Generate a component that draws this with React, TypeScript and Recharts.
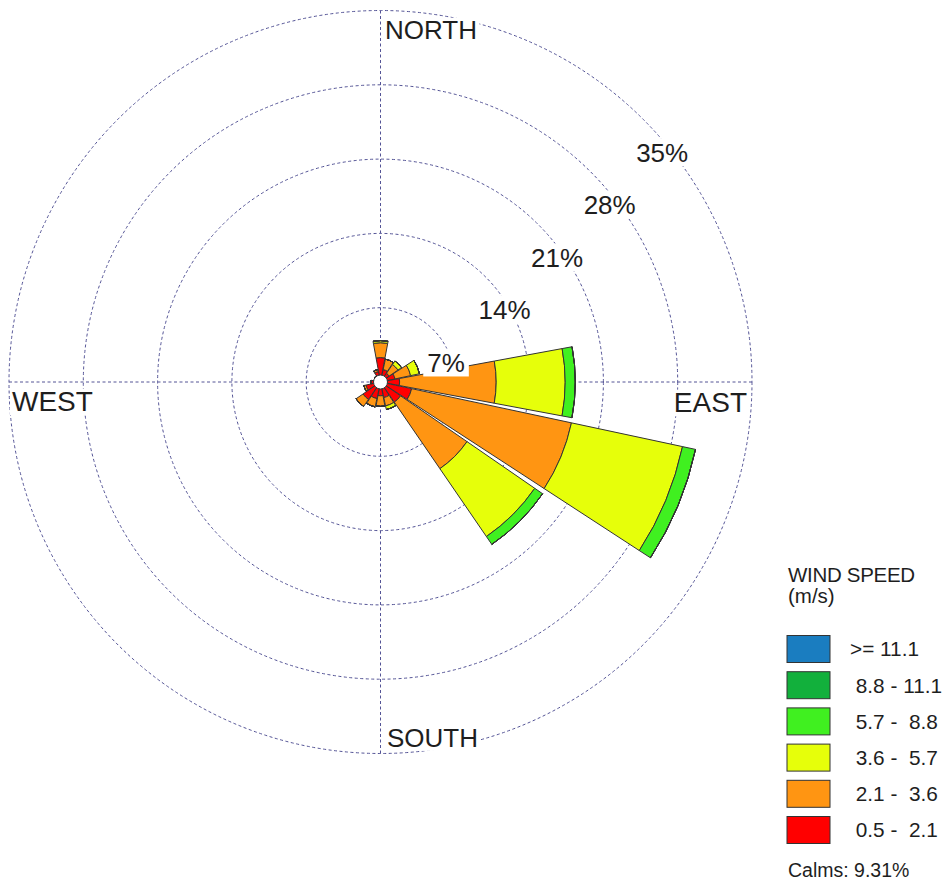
import React from "react";
import {
  RadialBarChart,
  RadialBar,
  PolarGrid,
  PolarAngleAxis,
  PolarRadiusAxis,
} from "recharts";

// 16 compass sectors, clockwise from north
const directions = [
  "N", "NNE", "NE", "ENE", "E", "ESE", "SE", "SSE",
  "S", "SSW", "SW", "WSW", "W", "WNW", "NW", "NNW",
];

// frequency (%) per direction for each wind speed class (m/s)
const speed05to21 = [2.3, 1.2, 1.0, 1.4, 1.8, 3.0, 2.3, 1.5, 1.3, 1.6, 2.0, 1.4, 0.9, 0.6, 0.7, 1.0];
const speed21to36 = [1.4, 1.0, 1.0, 1.5, 9.1, 15.4, 7.6, 0.8, 1.0, 0.8, 0.8, 0.2, 0, 0, 0, 0.2];
const speed36to57 = [0.2, 0, 0.4, 0.85, 6.5, 10.7, 7.75, 0.35, 0, 0, 0, 0, 0, 0, 0, 0];
const speed57to88 = [0, 0, 0, 0, 0.95, 1.25, 0.9, 0, 0, 0, 0, 0, 0, 0, 0, 0];
const speed88to111 = [0, 0, 0, 0, 0, 0, 0, 0, 0, 0, 0, 0, 0, 0, 0, 0];
const speed111up = [0, 0, 0, 0, 0, 0, 0, 0, 0, 0, 0, 0, 0, 0, 0, 0];

const ringTicks = [0, 7, 14, 21, 28, 35];
const calmsPct = 9.31;

// legend, top to bottom
const legendLabels = [">= 11.1", " 8.8 - 11.1", " 5.7 -  8.8", " 3.6 -  5.7", " 2.1 -  3.6", " 0.5 -  2.1"];
const legendColors = ["#1a7dc0", "#12b03c", "#40f020", "#e6ff0a", "#ff9512", "#ff0000"];

const compassNames: Record<string, string> = { N: "NORTH", E: "EAST", S: "SOUTH", W: "WEST" };

const FONT = "'Liberation Sans', Arial, sans-serif";
const SIZE = { w: 946, h: 883 };
const CX = 380.5;
const CY = 382;
const OUTER = 371.5;
const MAX_PCT = 35;
const HALF_SECTOR = 360 / directions.length / 2;

const rows = directions.map((dir, i) => ({
  dir,
  s1: speed05to21[i],
  s2: speed21to36[i],
  s3: speed36to57[i],
  s4: speed57to88[i],
  s5: speed88to111[i],
  s6: speed111up[i],
}));

// stacked from the center outwards: slowest class first
const series = [
  { key: "s1", color: legendColors[5] },
  { key: "s2", color: legendColors[4] },
  { key: "s3", color: legendColors[3] },
  { key: "s4", color: legendColors[2] },
  { key: "s5", color: legendColors[1] },
  { key: "s6", color: legendColors[0] },
];

// rough Arial advance widths, used to size the white boxes behind labels
const glyphW: Record<string, number> = {
  N: 0.722, O: 0.778, R: 0.722, T: 0.611, H: 0.722, E: 0.667, A: 0.667,
  S: 0.667, U: 0.722, W: 0.944, "%": 0.889,
};
const textWidth = (s: string, size: number) =>
  s.split("").reduce((w, c) => w + (glyphW[c] ?? 0.556), 0) * size;

const compassOffsets: Record<string, { dx: number; dy: number; size: number; anchor: "start" | "end" }> = {
  N: { dx: 4.5, dy: 36, size: 26, anchor: "start" },
  E: { dx: -13, dy: 30, size: 28, anchor: "end" },
  S: { dx: 6.5, dy: -14.5, size: 26, anchor: "start" },
  W: { dx: 11, dy: 29, size: 28, anchor: "start" },
};

function CompassTick(props: any) {
  const { payload } = props;
  const name = compassNames[payload.value];
  if (!name) return <g />;
  // angle ticks sit on the sector edge; turn them back to the sector middle
  const t = (-HALF_SECTOR * Math.PI) / 180;
  const rx = props.x - CX;
  const ry = props.y - CY;
  const x = CX + rx * Math.cos(t) - ry * Math.sin(t);
  const y = CY + rx * Math.sin(t) + ry * Math.cos(t);
  const o = compassOffsets[payload.value];
  const w = textWidth(name, o.size);
  const left = o.anchor === "start" ? x + o.dx : x + o.dx - w;
  return (
    <g>
      <rect x={left - 2} y={y + o.dy - o.size * 0.8} width={w + 4} height={o.size * 0.95} fill="#fff" />
      <text
        x={x + o.dx}
        y={y + o.dy}
        textAnchor={o.anchor}
        fontFamily={FONT}
        fontSize={o.size}
        fill="#1e1e1e"
      >
        {name}
      </text>
    </g>
  );
}

function RingTick(props: any) {
  const { x, y, payload } = props;
  if (payload.value === 0) {
    // calms marker in the middle of the rose
    return <circle cx={x} cy={y} r={7} fill="#fff" stroke="#333" strokeWidth={1} />;
  }
  const label = `${payload.value}%`;
  const w = textWidth(label, 26);
  // the innermost label is pulled in a little so it clears the ring
  const mx = x + (payload.value === 7 ? 13 : 19);
  const my = y + 33;
  return (
    <g>
      <rect x={mx - w / 2 - 4} y={my - 14} width={w + 8} height={28} fill="#fff" />
      <text x={mx} y={my + 9.3} textAnchor="middle" fontFamily={FONT} fontSize={26} fill="#1e1e1e">
        {label}
      </text>
    </g>
  );
}

export default function App() {
  const ringRadii = ringTicks.filter((t) => t > 0).map((t) => (t / MAX_PCT) * OUTER);
  const swatchTop = 635.5;
  const swatchStep = 36.2;

  return (
    <div style={{ position: "absolute", left: 0, top: 0, width: SIZE.w, height: SIZE.h, background: "#fff" }}>
      <RadialBarChart
        width={SIZE.w}
        height={SIZE.h}
        data={rows}
        layout="centric"
        cx={CX}
        cy={CY}
        innerRadius={0}
        outerRadius={OUTER}
        startAngle={90 - HALF_SECTOR}
        endAngle={90 - HALF_SECTOR - 360}
        barCategoryGap="3%"
        margin={{ top: 0, right: 0, bottom: 0, left: 0 }}
      >
        <PolarGrid
          gridType="circle"
          polarAngles={[0, 90, 180, 270]}
          polarRadius={ringRadii}
          stroke="#545496"
          strokeDasharray="3 2.5"
        />
        {series.map((s) => (
          <RadialBar
            key={s.key}
            dataKey={s.key}
            stackId="rose"
            fill={s.color}
            stroke="#333"
            strokeWidth={1}
            isAnimationActive={false}
          />
        ))}
        <PolarAngleAxis
          type="category"
          dataKey="dir"
          axisLine={false}
          tickLine={false}
          tick={(p: any) => <CompassTick {...p} />}
        />
        <PolarRadiusAxis
          type="number"
          domain={[0, MAX_PCT]}
          ticks={ringTicks}
          angle={45}
          axisLine={false}
          tickLine={false}
          tick={(p: any) => <RingTick {...p} />}
        />
      </RadialBarChart>

      <svg
        width={SIZE.w}
        height={SIZE.h}
        style={{ position: "absolute", left: 0, top: 0, pointerEvents: "none" }}
      >
        <text x={788} y={582} fontFamily={FONT} fontSize={20.5} fill="#1e1e1e" letterSpacing={-0.3}>
          WIND SPEED
        </text>
        <text x={788} y={603} fontFamily={FONT} fontSize={20.5} fill="#1e1e1e">
          (m/s)
        </text>
        {legendLabels.map((label, i) => {
          const top = swatchTop + i * swatchStep;
          return (
            <g key={label}>
              <rect x={787} y={top} width={43} height={27} fill={legendColors[i]} stroke="#333" strokeWidth={1} />
              <text
                x={850}
                y={top + 13.5 + 7.4}
                fontFamily={FONT}
                fontSize={20.8}
                fill="#1e1e1e"
                style={{ whiteSpace: "pre" }}
              >
                {label}
              </text>
            </g>
          );
        })}
        <text x={788} y={876.5} fontFamily={FONT} fontSize={19.5} fill="#1e1e1e">
          {`Calms: ${calmsPct.toFixed(2)}%`}
        </text>
      </svg>
    </div>
  );
}
